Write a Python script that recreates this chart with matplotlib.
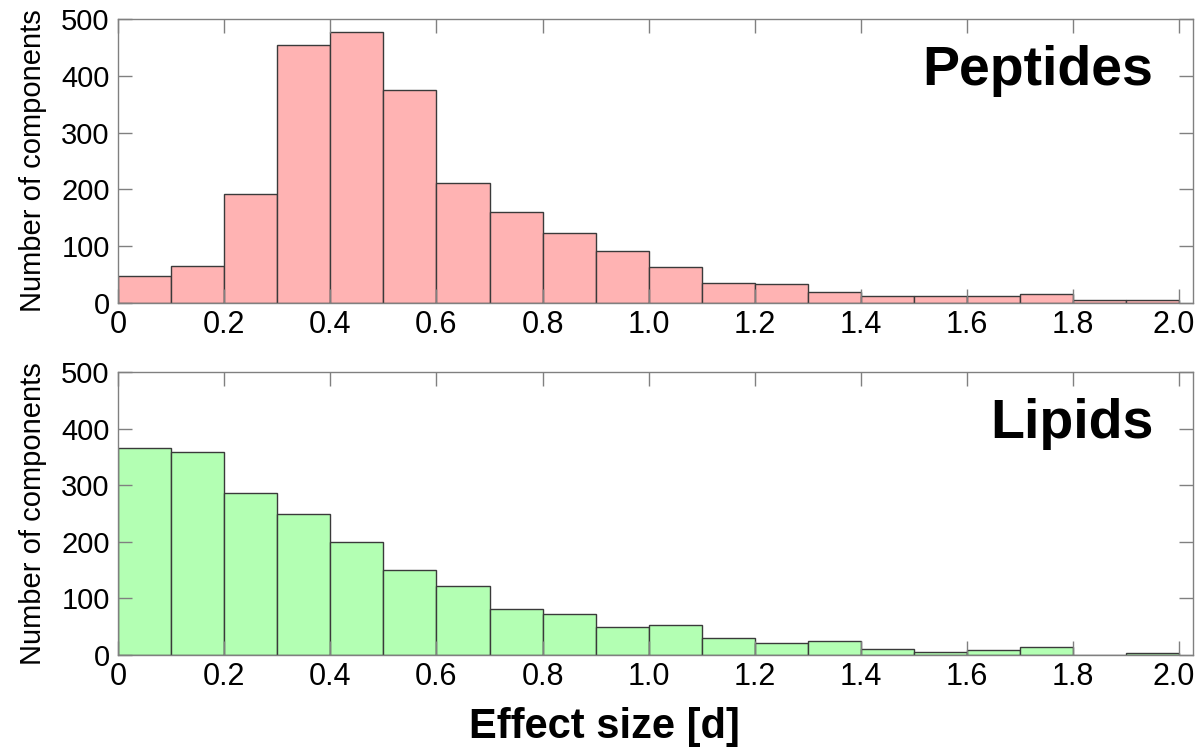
import numpy as np
import matplotlib
matplotlib.use("Agg")
import matplotlib.pyplot as plt
import matplotlib.transforms as mtransforms
from matplotlib import font_manager

# bin left edges (width 0.1) and counts
bin_edges = np.round(np.arange(0, 2.0, 0.1), 1)
bin_width = 0.1
peptides = [47, 65, 192, 455, 477, 375, 212, 161, 123, 92,
            64, 36, 34, 20, 12, 12, 12, 15, 5, 5]
lipids = [365, 359, 286, 249, 199, 150, 122, 81, 73, 49,
          53, 30, 21, 25, 11, 6, 9, 14, 0, 4]

xticks = np.round(np.arange(0, 2.01, 0.2), 1)
xticklabels = ["0"] + [f"{v:.1f}" for v in xticks[1:]]
yticks = [0, 100, 200, 300, 400, 500]

names = {f.name for f in font_manager.fontManager.ttflist}
narrow = "Liberation Sans Narrow" if "Liberation Sans Narrow" in names else "Liberation Sans"
plt.rcParams["font.family"] = ["Liberation Sans", "DejaVu Sans"]

fig = plt.figure(figsize=(11.96, 7.49), dpi=100)
ax1 = fig.add_axes([0.0987, 0.5955, 0.899, 0.379])
ax2 = fig.add_axes([0.0987, 0.1255, 0.899, 0.378])

panels = [(ax1, peptides, "#FFB3B3", "Peptides"),
          (ax2, lipids, "#B3FFB3", "Lipids")]

# nudge the last x label ("2.0") left a few pixels so it stays inside the figure
shift = mtransforms.ScaledTranslation(-6 / 100, 0, fig.dpi_scale_trans)

for ax, counts, color, title in panels:
    ax.bar(bin_edges, counts, width=bin_width, align="edge",
           color=color, edgecolor="#3a3a3a", linewidth=1.0)
    ax.set_xlim(0, 2.026)
    ax.set_ylim(0, 500)
    ax.set_xticks(xticks)
    ax.set_xticklabels(xticklabels)
    ax.set_yticks(yticks)
    ax.tick_params(direction="in", top=True, right=True, length=10,
                   width=1, color="#808080")
    ax.tick_params(axis="x", pad=5, labelsize=22)
    ax.tick_params(axis="y", pad=6, labelsize=21)
    last = ax.get_xticklabels()[-1]
    last.set_transform(last.get_transform() + shift)
    for sp in ax.spines.values():
        sp.set_color("#808080")
        sp.set_linewidth(1)
    ax.set_ylabel("Number of components", fontsize=21, family=[narrow, "DejaVu Sans"])
    ax.yaxis.set_label_coords(-0.066, 0.5)
    ax.text(0.963, 0.768, title, transform=ax.transAxes, ha="right",
            va="baseline", fontsize=40, fontweight="bold")

fig.text(0.505, 0.0147, "Effect size [d]", ha="center", va="baseline",
         fontsize=30, fontweight="bold")

fig.savefig("out.png", dpi=100)
